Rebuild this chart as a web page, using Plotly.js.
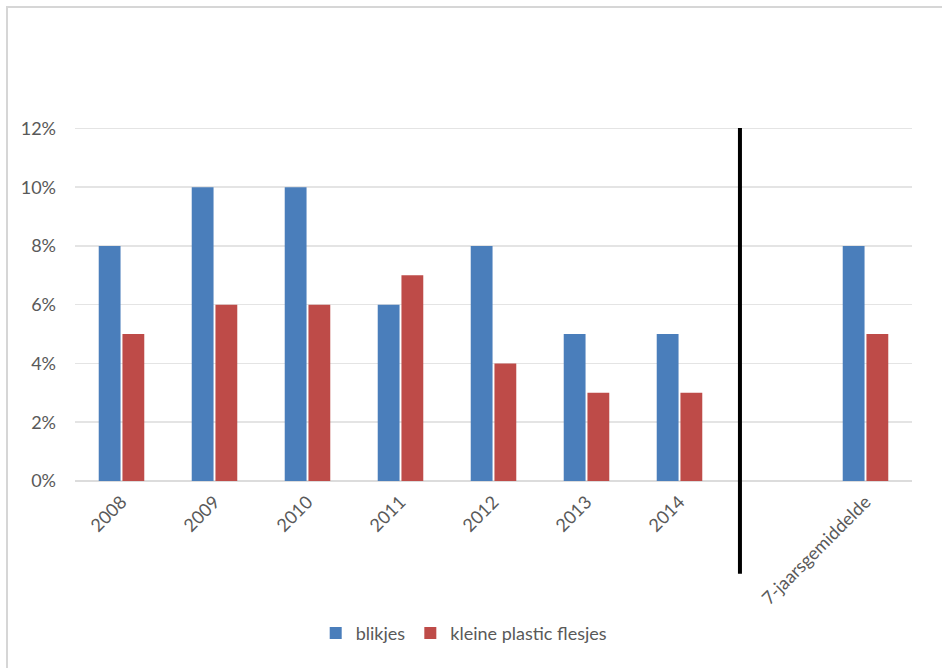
<!DOCTYPE html>
<html>
<head>
<meta charset="utf-8">
<script src="https://cdn.plot.ly/plotly-3.0.1.min.js"></script>
<style>
  html, body { margin: 0; padding: 0; background: #fff; }
  #chart { width: 942px; height: 668px; }
  #frame { position: absolute; left: 6px; top: 6px; width: 940px; height: 670px;
           border-left: 2px solid #d6d6d6; border-top: 2px solid #d6d6d6; pointer-events: none; }
</style>
</head>
<body>
<div id="chart"></div>
<div id="frame"></div>
<script>
const categories = ["2008", "2009", "2010", "2011", "2012", "2013", "2014", " ", "7-jaarsgemiddelde"];
const blikjes = [8, 10, 10, 6, 8, 5, 5, null, 8];
const flesjes = [5, 6, 6, 7, 4, 3, 3, null, 5];
const yTickVals = [0, 2, 4, 6, 8, 10, 12];
const yTickText = ["0%", "2%", "4%", "6%", "8%", "10%", "12%"];

const font = "Lato, 'Open Sans', 'Liberation Sans', sans-serif";

const traces = [
  { type: "bar", name: "blikjes", x: categories, y: blikjes,
    marker: { color: "#4a7ebb" }, hoverinfo: "skip" },
  { type: "bar", name: "kleine plastic flesjes", x: categories, y: flesjes,
    marker: { color: "#be4b48" }, hoverinfo: "skip" }
];

const layout = {
  width: 942, height: 668,
  paper_bgcolor: "#ffffff", plot_bgcolor: "#ffffff",
  margin: { l: 75, r: 30, t: 127, b: 187 },
  barmode: "group", bargap: 0.49, bargroupgap: 0.08,
  showlegend: true,
  legend: { orientation: "h", x: 0.465, xanchor: "center", y: -0.43, yanchor: "middle",
            font: { family: font, size: 18, color: "#595959" }, itemwidth: 30,
            traceorder: "normal" },
  xaxis: { type: "category", tickangle: -45, showgrid: false, showline: false, zeroline: false,
           ticks: "", ticklabelstandoff: 6,
           tickfont: { family: font, size: 18, color: "#595959" }, fixedrange: true },
  yaxis: { range: [0, 12.05], tickvals: yTickVals, ticktext: yTickText, showgrid: true,
           gridcolor: "#e4e4e4", gridwidth: 1.5, zeroline: true, zerolinecolor: "#dcdcdc", zerolinewidth: 1.5,
           showline: false, ticks: "", ticklabelstandoff: 18,
           tickfont: { family: font, size: 18, color: "#595959" }, fixedrange: true },
  shapes: [
    { type: "line", xref: "x", yref: "paper", x0: 6.65, x1: 6.65, y0: -0.262, y1: 0.997,
      line: { color: "#000000", width: 4 } }
  ]
};

Plotly.newPlot("chart", traces, layout, { displayModeBar: false, staticPlot: true });
</script>
</body>
</html>
